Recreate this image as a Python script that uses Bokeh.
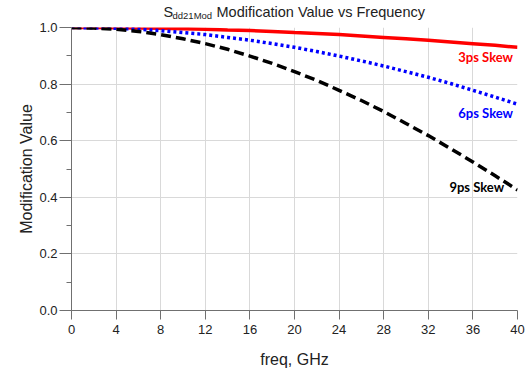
from bokeh.plotting import figure
from bokeh.models import Label, SingleIntervalTicker, Range1d, PrintfTickFormatter
from bokeh.layouts import column
from bokeh.core.properties import value
from bokeh.embed import file_html
from bokeh.resources import INLINE

freq = [0, 2, 4, 6, 8, 10, 12, 14, 16, 18, 20, 22, 24, 26, 28, 30, 32, 34, 36, 38, 40]
skew3 = [1.000, 1.000, 0.999, 0.998, 0.997, 0.996, 0.994, 0.991, 0.989, 0.986, 0.982,
         0.979, 0.975, 0.970, 0.965, 0.960, 0.955, 0.949, 0.943, 0.937, 0.930]
skew6 = [1.000, 0.999, 0.997, 0.994, 0.989, 0.982, 0.975, 0.965, 0.955, 0.943, 0.930,
         0.915, 0.899, 0.882, 0.864, 0.844, 0.824, 0.802, 0.778, 0.754, 0.729]
skew9 = [1.000, 0.998, 0.994, 0.986, 0.975, 0.960, 0.943, 0.923, 0.899, 0.873, 0.844,
         0.813, 0.778, 0.742, 0.703, 0.661, 0.618, 0.572, 0.525, 0.476, 0.426]
series_labels = ["3ps Skew", "6ps Skew", "9ps Skew"]
colors = ["#ff0000", "#0000ff", "#000000"]
title_parts = ["S", "dd21Mod", "Modification Value vs Frequency"]

FONT = "Liberation Sans"
TXT = "#222222"

# ---- title strip (its frame is aligned with the main frame: pixels 71..517) ----
H_T = 20
t = figure(width=525, height=H_T, output_backend="svg", toolbar_location=None,
           x_range=Range1d(71, 517), y_range=Range1d(0, H_T),
           min_border_left=71, min_border_right=8, min_border_top=0, min_border_bottom=0,
           x_axis_type=None, y_axis_type=None)
t.outline_line_color = None
t.grid.visible = False
t.text(x=[163], y=[H_T - 11.5], text=[title_parts[0]], text_font=value(FONT),
       text_font_size="14.5px", text_align="left", text_baseline="middle", text_color=TXT)
t.text(x=[172], y=[H_T - 14.6], text=[title_parts[1]], text_font=value(FONT),
       text_font_size="9.5px", text_align="left", text_baseline="middle", text_color=TXT)
t.text(x=[216], y=[H_T - 11.5], text=[title_parts[2]], text_font=value(FONT),
       text_font_size="14.5px", text_align="left", text_baseline="middle", text_color=TXT)

# ---- main plot ----
p = figure(width=525, height=376 - H_T, output_backend="svg", toolbar_location=None,
           x_range=Range1d(0, 40), y_range=Range1d(0, 1.0),
           min_border_left=71, min_border_right=8, min_border_top=27 - H_T,
           min_border_bottom=66)
p.outline_line_color = None

p.line(freq, skew3, line_color=colors[0], line_width=3.5)
p.line(freq, skew6, line_color=colors[1], line_width=3.5, line_dash="3 3")
p.line(freq, skew9, line_color=colors[2], line_width=3.5, line_dash="10 5")

xa = p.xaxis[0]
ya = p.yaxis[0]
xa.ticker = SingleIntervalTicker(interval=4, num_minor_ticks=0)
ya.ticker = SingleIntervalTicker(interval=0.2, num_minor_ticks=2)
ya.formatter = PrintfTickFormatter(format="%.1f")
for ax in (xa, ya):
    ax.axis_line_color = "#707070"
    ax.major_tick_line_color = "#707070"
    ax.minor_tick_line_color = "#707070"
    ax.major_tick_in = 0
    ax.minor_tick_in = 0
    ax.major_label_text_font = FONT
    ax.major_label_text_font_size = "13px"
    ax.major_label_text_color = TXT
    ax.axis_label_text_font = FONT
    ax.axis_label_text_font_size = "16px"
    ax.axis_label_text_font_style = "normal"
    ax.axis_label_text_color = TXT
xa.minor_tick_line_color = None
xa.major_tick_out = 9
xa.major_label_standoff = 5
xa.axis_label = "freq, GHz"
xa.axis_label_standoff = 14
ya.major_tick_out = 12
ya.minor_tick_out = 5
ya.major_label_standoff = 2
ya.axis_label = "Modification Value"
ya.axis_label_standoff = 1

p.xgrid.grid_line_color = "#d9d9d9"
p.ygrid.grid_line_color = "#d9d9d9"
p.xgrid.ticker = SingleIntervalTicker(interval=4)
p.ygrid.ticker = SingleIntervalTicker(interval=0.2)

label_pos = [(39.6, 0.8975), (39.6, 0.6996), (38.8, 0.438)]
for (lx, ly), txt, c in zip(label_pos, series_labels, colors):
    p.add_layout(Label(x=lx, y=ly, text=txt, text_color=c, text_font="Lato",
                       text_font_style="bold", text_font_size="13px",
                       text_align="right", text_baseline="middle"))

layout = column(t, p, spacing=0)
open("out.html", "w").write(file_html(layout, INLINE))
